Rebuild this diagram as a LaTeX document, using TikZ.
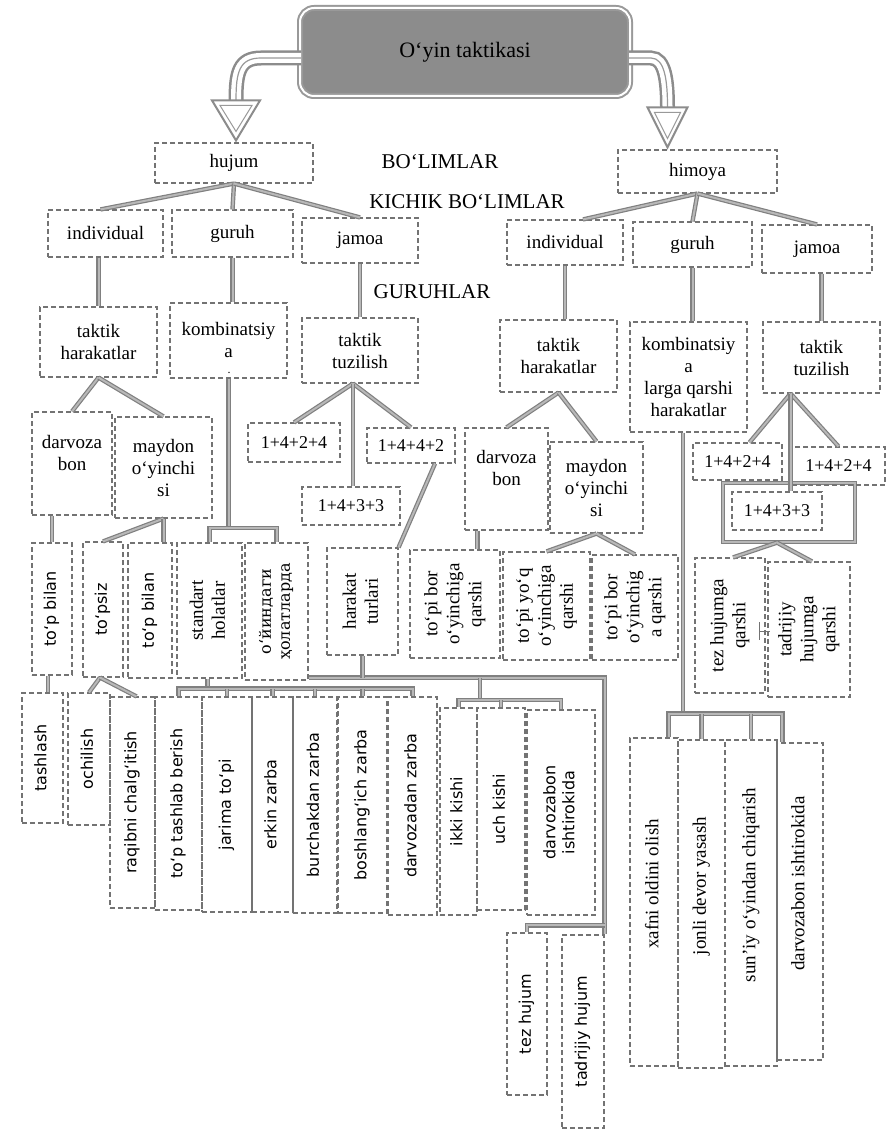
\documentclass[tikz,border=0pt]{standalone}
\usepackage{fontspec}
\setmainfont{Liberation Serif}
\newfontfamily\dsans{DejaVu Sans}
\newfontfamily\dserif{DejaVu Serif}
\usepackage{graphicx}
\usetikzlibrary{calc}

% rotated (bottom-to-top) multi-line label
\newcommand\vtext[1]{\rotatebox{90}{\begin{tabular}{@{}c@{}}#1\end{tabular}}}

\tikzset{
  corners/.style n args={4}{minimum width={#3-#1}, minimum height={#4-#2},
    at={({(#1+#3)/2},{(#2+#4)/2})}},
  box/.style={draw=black!55, dash pattern=on 5pt off 3pt, line width=1.1pt,
    inner sep=0pt, align=center, font=\fontsize{19}{22}\selectfont},
  sbox/.style={box, font=\dsans\fontsize{16}{19}\selectfont},
  nbox/.style={box, font=\fontsize{18}{21}\selectfont},
  conn/.style={draw=black!50, double=black!28, double distance=2pt, line width=1.2pt},
  grp/.style={conn, inner sep=0pt},
  level/.style={font=\fontsize{21}{24}\selectfont, inner sep=0pt},
  titlebox/.style={rounded corners=14pt, fill=black!45, draw=black!40, double=white,
    double distance=2pt, line width=2pt, inner sep=0pt, font=\fontsize{22}{26}\selectfont},
  shaftout/.style={draw=black!45, line width=15pt},
  shaftin/.style={draw=white, line width=10pt},
  shaftmid/.style={draw=black!40, line width=1.2pt},
  headout/.style={fill=white, draw=black!45, line width=2pt, line join=miter},
  headin/.style={draw=black!40, line width=1pt, line join=miter}
}

\begin{document}
\begin{tikzpicture}[x=1pt,y=-1pt]
\useasboundingbox (0,0) rectangle (894,1131);
\fill[white] (0,0) rectangle (894,1131);

% ---------- root ----------
\node[titlebox, corners={300}{8}{630}{96}] (title) {O‘yin taktikasi};

% ---------- sections ----------
\node[box, corners={155}{143}{313}{183}] (hujum) {hujum};
\node[box, corners={618}{150}{777}{193}] (himoya) {himoya};
\node[level] (bolim) at (440,162) {BO‘LIMLAR};
\node[level] (kichik) at (467,202) {KICHIK BO‘LIMLAR};
\node[level] (guruhlar) at (432,292) {GURUHLAR};

% double hollow arrows from the root
\coordinate (lt) at ($(hujum.north)+(2,-2)$);
\coordinate (lS) at ($(title.west)+(2,6)$);
\coordinate (lL) at ($(lS)+(-40,0)$);
\coordinate (lE) at ($(lt)+(0,-40)$);
\foreach \s in {shaftout,shaftin,shaftmid}
  \draw[\s] (lS) -- (lL) .. controls ($(lL)+(-22,0)$) and ($(lE)+(0,-28)$) .. (lE);
\draw[headout] ($(lt)+(-24,-40)$) -- ($(lt)+(24,-40)$) -- (lt) -- cycle;
\draw[headin] ($(lt)+(-16,-35)$) -- ($(lt)+(16,-35)$) -- ($(lt)+(0,-9)$) -- cycle;

\coordinate (rt) at ($(himoya.north)+(-30,-2)$);
\coordinate (rS) at ($(title.east)+(-2,6)$);
\coordinate (rL) at ($(rS)+(22,0)$);
\coordinate (rE) at ($(rt)+(0,-40)$);
\foreach \s in {shaftout,shaftin,shaftmid}
  \draw[\s] (rS) -- (rL) .. controls ($(rL)+(14,0)$) and ($(rE)+(0,-26)$) .. (rE);
\draw[headout] ($(rt)+(-20,-40)$) -- ($(rt)+(20,-40)$) -- (rt) -- cycle;
\draw[headin] ($(rt)+(-13,-35)$) -- ($(rt)+(13,-35)$) -- ($(rt)+(0,-9)$) -- cycle;

% ---------- subsections ----------
\node[box, corners={48}{210}{163}{257}] (indL) {individual};
\node[box, corners={172}{210}{293}{257}] (gurL) {guruh};
\node[box, corners={302}{218}{418}{263}] (jamL) {jamoa};
\node[box, corners={507}{220}{623}{265}] (indR) {individual};
\node[box, corners={633}{222}{752}{267}] (gurR) {guruh};
\node[box, corners={762}{225}{872}{273}] (jamR) {jamoa};

% ---------- groups ----------
\node[box, corners={40}{307}{157}{377}] (takL) {taktik\\harakatlar};
\node[box, corners={170}{303}{287}{378}] (komL) {kombinatsiy\\a};
\node[inner sep=0pt, font=\fontsize{12}{12}\selectfont] (komdot) at (229,373) {.};
\node[box, corners={302}{318}{418}{383}] (tuzL) {taktik\\tuzilish};
\node[box, corners={500}{320}{617}{392}] (takR) {taktik\\harakatlar};
\node[box, corners={630}{322}{747}{432}] (komR) {kombinatsiy\\a\\larga qarshi\\harakatlar};
\node[box, corners={763}{322}{880}{393}] (tuzR) {taktik\\tuzilish};

% ---------- fourth level ----------
\node[box, corners={32}{412}{112}{515}] (darvL) {darvoza\\bon\\\mbox{}};
\node[box, corners={115}{417}{212}{518}] (maydL) {maydon\\o‘yinchi\\si};
\node[nbox, corners={248}{423}{340}{462}] (aL) {1+4+2+4};
\node[nbox, corners={367}{428}{455}{463}] (bL) {1+4+4+2};
\node[nbox, corners={302}{487}{400}{525}] (cL) {1+4+3+3};
\node[box, corners={465}{428}{548}{530}] (darvR) {darvoza\\bon\\\mbox{}};
\node[box, corners={550}{442}{643}{533}] (maydR) {maydon\\o‘yinchi\\si};
\node[grp, corners={723}{483}{855}{542}] (frame) {};
\node[nbox, corners={693}{443}{782}{480}] (aR) {1+4+2+4};
\node[nbox, corners={792}{447}{885}{485}] (bR) {1+4+2+4};
\node[nbox, corners={732}{492}{822}{530}] (cR) {1+4+3+3};

% ---------- fifth level (upright columns) ----------
\node[sbox, corners={32}{543}{72}{675}] (tpb1) {\vtext{to‘p bilan}};
\node[sbox, corners={83}{542}{123}{677}] (tpsiz) {\vtext{to‘psiz}};
\node[sbox, corners={128}{543}{172}{678}] (tpb2) {\vtext{to‘p bilan}};
\node[box, corners={177}{543}{242}{678}] (stand) {\vtext{standart\\holatlar}};
\node[box, font=\dserif\fontsize{16}{19}\selectfont, corners={245}{543}{308}{680}] (oyin) {\vtext{о‘йиндаги\\ҳолатларда}};
\node[box, corners={327}{548}{398}{655}] (harak) {\vtext{harakat\\turlari}};
\node[box, corners={410}{550}{500}{658}] (qa) {\vtext{to‘pi bor\\o‘yinchiga\\qarshi}};
\node[box, corners={503}{552}{590}{660}] (qb) {\vtext{to‘pi yo‘q\\o‘yinchiga\\qarshi}};
\node[box, corners={592}{555}{678}{660}] (qc) {\vtext{to‘pi bor\\o‘yinchig\\a qarshi}};
\node[box, corners={695}{558}{765}{693}] (tezq) {\vtext{tez hujumga\\qarshi}};
\node[box, corners={768}{562}{850}{697}] (tadq) {\vtext{tadrijiy\\hujumga\\qarshi}};
\draw[black!55, line width=0.9pt] (759,622) -- (759,640) (759,631) -- (770,631) (764,622) -- (764,626);

% ---------- sixth level ----------
\node[sbox, corners={22}{693}{63}{823}] (tash) {\vtext{tashlash}};
\node[sbox, corners={68}{693}{110}{825}] (ochil) {\vtext{ochilish}};
\node[sbox, corners={110}{697}{155}{908}] (raqib) {\vtext{raqibni chalg‘itish}};
\node[sbox, corners={155}{697}{202}{910}] (tashlab) {\vtext{to‘p tashlab berish}};
\node[sbox, corners={202}{697}{252}{912}] (jarima) {\vtext{jarima to‘pi}};
\node[sbox, corners={252}{697}{293}{912}] (erkin) {\vtext{erkin zarba}};
\node[sbox, corners={293}{697}{337}{913}] (burch) {\vtext{burchakdan zarba}};
\node[sbox, corners={338}{697}{387}{913}] (boshl) {\vtext{boshlang‘ich zarba}};
\node[sbox, corners={388}{697}{437}{915}] (darvz) {\vtext{darvozadan zarba}};
\node[sbox, corners={440}{708}{477}{915}] (ikki) {\vtext{ikki kishi}};
\node[sbox, corners={477}{708}{525}{910}] (uch) {\vtext{uch kishi}};
\node[sbox, corners={527}{710}{595}{915}] (darvI) {\vtext{darvozabon\\ishtirokida}};
\node[sbox, corners={507}{933}{547}{1095}] (tezh) {\vtext{tez hujum}};
\node[sbox, corners={562}{935}{604}{1128}] (tadh) {\vtext{tadrijiy hujum}};
\node[box, corners={630}{738}{678}{1066}] (xafni) {\vtext{\hspace*{36pt}xafni oldini olish}};
\node[box, corners={678}{740}{725}{1068}] (jonli) {\vtext{\hspace*{36pt}jonli devor yasash}};
\node[box, corners={725}{740}{777}{1066}] (suniy) {\vtext{\hspace*{36pt}sun’iy o‘yindan chiqarish}};
\node[box, corners={777}{743}{823}{1060}] (darvIR) {\vtext{\hspace*{36pt}darvozabon ishtirokida}};

% ---------- connectors ----------
\draw[conn] (hujum.south) -- ($(indL.north)+(-5,0)$);
\draw[conn] (hujum.south) -- (gurL.north);
\draw[conn] (hujum.south) -- (jamL.north);
\draw[conn] (himoya.south) -- ($(indR.north)+(18,0)$);
\draw[conn] (himoya.south) -- (gurR.north);
\draw[conn] (himoya.south) -- (jamR.north);

\draw[conn] (takL.north |- indL.south) -- (takL.north);
\draw[conn] (gurL.south) -- (gurL.south |- komL.north);
\draw[conn] (jamL.south) -- (tuzL.north);
\draw[conn] (indR.south) -- (indR.south |- takR.north);
\draw[conn] (gurR.south) -- (gurR.south |- komR.north);
\draw[conn] (tuzR.north |- jamR.south) -- (tuzR.north);

% left attack branch
\draw[conn] (takL.south) -- (darvL.north);
\draw[conn] (takL.south) -- (maydL.north);
\coordinate (kb) at (229,528);
\draw[conn] (komL.south) -- (komL.south |- kb);
\draw[conn] (stand.north) |- (kb) -| (oyin.north);
\coordinate (tz) at ($(tuzL.south)+(-7,0)$);
\draw[conn] (tz) -- (aL.north);
\draw[conn] (tz) -- (bL.north);
\draw[conn] (tz) -- (tz |- cL.north);
\draw[conn] ($(bL.south)+(24,0)$) -- (harak.north east);

\draw[conn] (tpb1.north |- darvL.south) -- (tpb1.north);
\draw[conn] (maydL.south) -- (tpsiz.north);
\draw[conn] (maydL.south) -- (maydL.south |- tpb2.north);

\coordinate (t1) at ($(tpb1.south)+(-4,0)$);
\draw[conn] (t1) -- (t1 |- tash.north);
\coordinate (t2) at ($(tpsiz.south)+(-3,0)$);
\draw[conn] (t2) -- (ochil.north);
\draw[conn] (t2) -- ($(raqib.north)+(4,0)$);

\coordinate (sb) at ($(stand.south)+(-2,10)$);
\draw[conn] ($(stand.south)+(-2,0)$) -- (sb);
\draw[conn] (tashlab.north) |- (sb) -| (darvz.north);
\foreach \n in {jarima,erkin,burch,boshl}
  \draw[conn] (\n.north) -- (\n.north |- sb);

\coordinate (ly) at ($(oyin.south east)+(0,-3)$);
\draw[conn] (ly) -- (tadh.north east |- ly) -- (tadh.north east);
\coordinate (hb) at ($(tadh.north east)+(0,-9)$);
\draw[conn] (hb) -| (tezh.north);
\draw[conn] (harak.south) -- (harak.south |- ly);
\coordinate (ib) at (480,700);
\draw[conn] (ib |- ly) -- (ib);
\draw[conn] (ikki.north) |- (ib) -| (darvI.north);
\draw[conn] (uch.north) -- (uch.north |- ib);

% right defence branch
\draw[conn] (takR.south) -- (darvR.north);
\draw[conn] (takR.south) -- (maydR.north);
\coordinate (dr) at ($(darvR.south west)+(13,0)$);
\draw[conn] (dr) -- (dr |- qa.north);
\draw[conn] (maydR.south) -- (qb.north);
\draw[conn] (maydR.south) -- (qc.north);

\coordinate (tr) at ($(tuzR.south)+(-31,0)$);
\draw[conn] (tr) -- ($(aR.north)+(12,0)$);
\draw[conn] (tr) -- (bR.north);
\draw[conn] (tr) -- (tr |- cR.north);
\coordinate (fr) at ($(frame.south)+(-12,0)$);
\draw[conn] (fr) -- ($(tezq.north)+(3,0)$);
\draw[conn] (fr) -- ($(tadq.north)+(3,0)$);

\coordinate (kr) at ($(komR.south)+(-5.5,0)$);
\coordinate (kbr) at ($(kr)+(0,281)$);
\draw[conn] (kr) -- (kbr);
\coordinate (xl) at ($(xafni.north east)+(-10,0)$);
\coordinate (dl) at ($(darvIR.north west)+(6,0)$);
\draw[conn] (xl) |- (kbr) -| (dl);
\draw[conn] (jonli.north) -- (jonli.north |- kbr);
\draw[conn] (suniy.north) -- (suniy.north |- kbr);
\end{tikzpicture}
\end{document}
